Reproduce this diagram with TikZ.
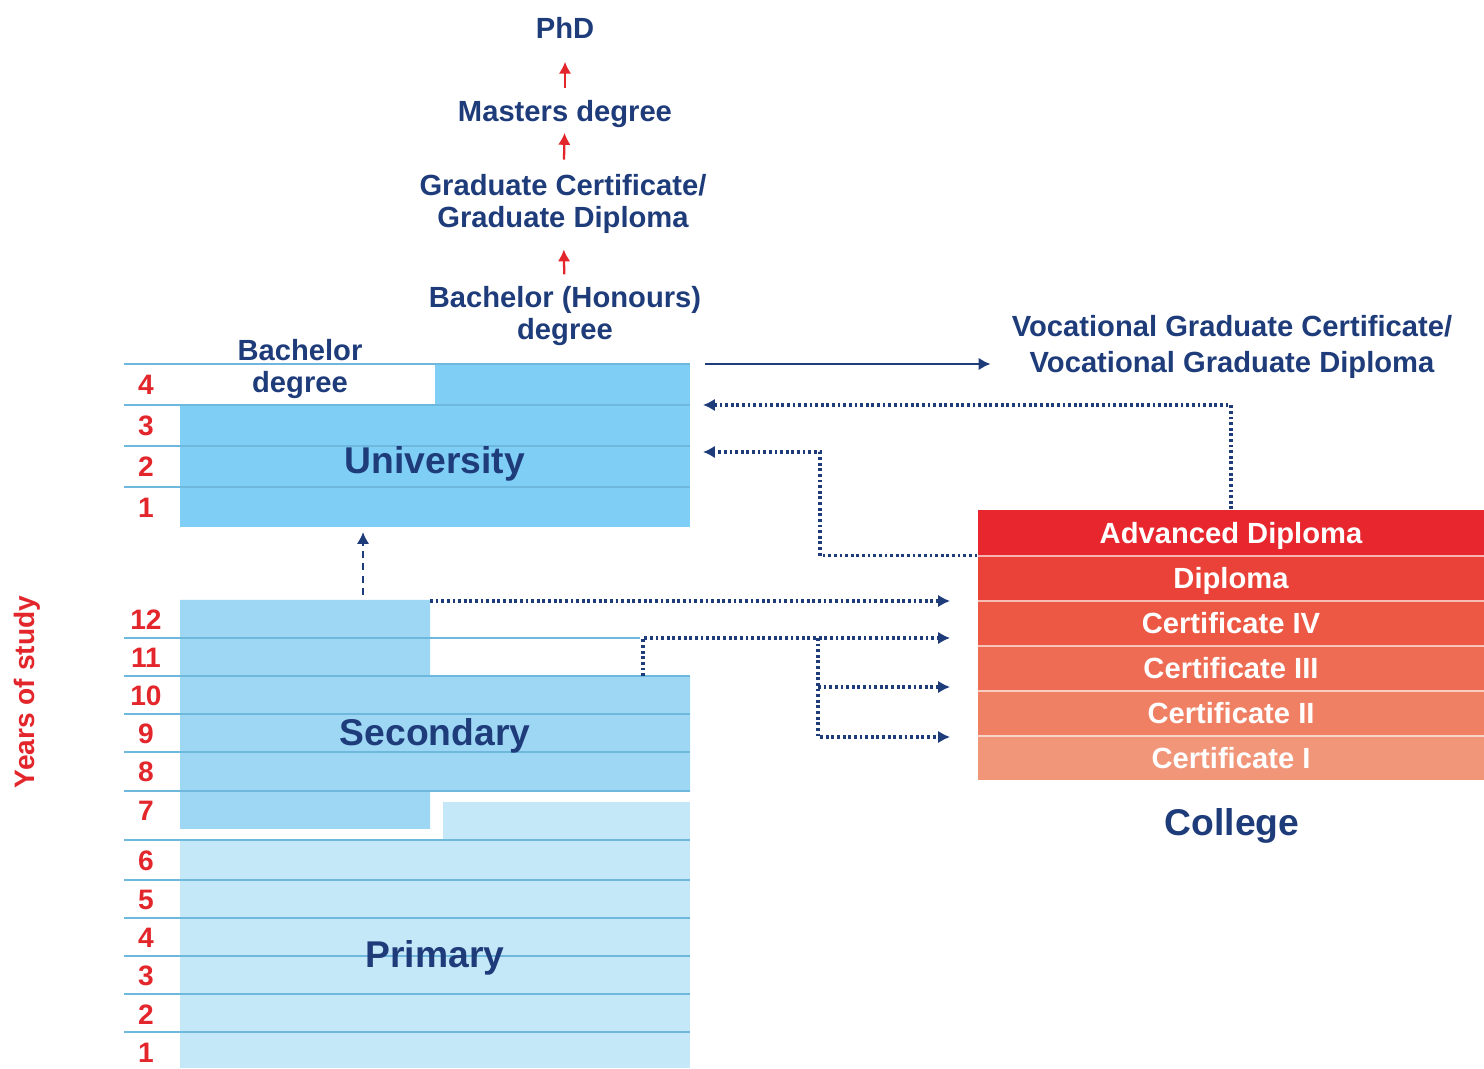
\documentclass[tikz,border=0pt]{standalone}
\usepackage{fontspec}
\setmainfont{Liberation Sans}
\usepackage{tikz}
\usetikzlibrary{arrows.meta}

\definecolor{navy}{RGB}{31,60,122}
\definecolor{yred}{RGB}{226,38,43}
\definecolor{unifill}{RGB}{127,206,245}
\definecolor{secfill}{RGB}{157,215,244}
\definecolor{prifill}{RGB}{197,232,249}
\definecolor{rowline}{RGB}{110,184,222}
\definecolor{advfill}{RGB}{232,38,46}
\definecolor{dipfill}{RGB}{234,66,56}
\definecolor{cfourfill}{RGB}{236,88,68}
\definecolor{cthreefill}{RGB}{238,108,84}
\definecolor{ctwofill}{RGB}{240,128,100}
\definecolor{conefill}{RGB}{242,150,122}

\tikzset{
  deg/.style={font=\bfseries\fontsize{8.3}{8.9}\selectfont, text=navy, align=center, inner sep=1pt},
  sector/.style={font=\bfseries\fontsize{10.6}{12}\selectfont, text=navy},
  yr/.style={font=\bfseries\fontsize{8}{9}\selectfont, text=yred, inner sep=0pt},
  lvl/.style={font=\bfseries\fontsize{8.3}{9}\selectfont, text=white, minimum width=5.06cm, minimum height=0.45cm, inner sep=0pt, text depth=0pt},
  uparr/.style={yred, line width=0.65pt, -{Latex[length=3.4pt,width=3.6pt]}},
  link/.style={navy, line width=0.9pt, dash pattern=on 0.8pt off 0.8pt, -{Latex[length=3.4pt,width=3.6pt]}},
  rowsep/.style={rowline, line width=0.6pt}
}

\begin{document}
\begin{tikzpicture}
        \useasboundingbox (0,0) rectangle (14.84,10.68);
        % blocks
        \fill[unifill] (1.80,5.41) rectangle (6.90,6.63);
        \fill[unifill] (4.35,6.63) rectangle (6.90,7.04);
        \fill[secfill] (1.80,4.68) -- (4.30,4.68) -- (4.30,3.92) -- (6.90,3.92) -- (6.90,2.77) -- (4.30,2.77) -- (4.30,2.39) -- (1.80,2.39) -- cycle;
        \fill[prifill] (4.43,2.28) rectangle (6.90,2.66);
        \fill[prifill] (1.80,0) rectangle (6.90,2.28);
        \draw[rowsep] (1.24,7.04) -- (6.90,7.04) (1.24,6.63) -- (6.90,6.63) (1.24,6.22) -- (6.90,6.22) (1.24,5.81) -- (6.90,5.81);
        \draw[rowsep] (1.24,4.30) -- (6.40,4.30) (1.24,3.92) -- (6.90,3.92) (1.24,3.54) -- (6.90,3.54) (1.24,3.16) -- (6.90,3.16) (1.24,2.77) -- (6.90,2.77);
        \draw[rowsep] (1.24,2.28) -- (6.90,2.28) (1.24,1.88) -- (6.90,1.88) (1.24,1.50) -- (6.90,1.50) (1.24,1.12) -- (6.90,1.12) (1.24,0.74) -- (6.90,0.74) (1.24,0.36) -- (6.90,0.36);
        \node[sector] (uni) at (4.35,6.04) {University};
        \node[sector] (sec) at (4.35,3.32) {Secondary};
        \node[sector] (pri) at (4.35,1.10) {Primary};
        \node[deg] (bach) at (3.00,6.99) {Bachelor\\degree};
        % years
        \node[yr, rotate=90] (years) at (0.27,3.76) {Years of study};
        \node[yr] (u4) at (1.46,6.83) {4};  \node[yr] (u3) at (1.46,6.42) {3};
        \node[yr] (u2) at (1.46,6.01) {2};  \node[yr] (u1) at (1.46,5.60) {1};
        \node[yr] (s12) at (1.46,4.48) {12}; \node[yr] (s11) at (1.46,4.10) {11};
        \node[yr] (s10) at (1.46,3.72) {10}; \node[yr] (s9) at (1.46,3.34) {9};
        \node[yr] (s8) at (1.46,2.96) {8};  \node[yr] (s7) at (1.46,2.57) {7};
        \node[yr] (p6) at (1.46,2.07) {6};  \node[yr] (p5) at (1.46,1.68) {5};
        \node[yr] (p4) at (1.46,1.30) {4};  \node[yr] (p3) at (1.46,0.92) {3};
        \node[yr] (p2) at (1.46,0.53) {2};  \node[yr] (p1) at (1.46,0.15) {1};
        % higher degrees
        \node[deg] (phd) at (5.65,10.40) {PhD};
        \node[deg] (mast) at (5.65,9.54) {Masters degree};
        \node[deg] (gcert) at (5.63,8.64) {Graduate Certificate/\\Graduate Diploma};
        \node[deg] (hons) at (5.65,7.52) {Bachelor (Honours)\\degree};
        \draw[uparr, shorten <=0.08cm, shorten >=0.19cm] (mast) -- (phd);
        \draw[uparr, shorten <=0.11cm, shorten >=0.01cm] (gcert) -- (mast);
        \draw[uparr, shorten <=0.08cm, shorten >=0.12cm] (hons) -- (gcert);
        \node[deg, font=\bfseries\fontsize{8.3}{10}\selectfont] (voc) at (12.32,7.21) {Vocational Graduate Certificate/\\Vocational Graduate Diploma};
        % college
        \node[lvl, fill=advfill] (adv) at (12.31,5.355) {Advanced Diploma};
        \node[lvl, fill=dipfill] (dip) at (12.31,4.905) {Diploma};
        \node[lvl, fill=cfourfill] (c4) at (12.31,4.455) {Certificate IV};
        \node[lvl, fill=cthreefill] (c3) at (12.31,4.005) {Certificate III};
        \node[lvl, fill=ctwofill] (c2) at (12.31,3.555) {Certificate II};
        \node[lvl, fill=conefill] (c1) at (12.31,3.105) {Certificate I};
        \draw[white, opacity=0.6, line width=0.5pt] (adv.south west) -- (adv.south east) (dip.south west) -- (dip.south east) (c4.south west) -- (c4.south east) (c3.south west) -- (c3.south east) (c2.south west) -- (c2.south east);
        \node[sector] (college) at (12.32,2.42) {College};
        % pathways
        \coordinate (vstart) at (7.05,7.04);
        \coordinate (uA) at (7.03,6.63);
        \coordinate (uB) at (7.03,6.16);
        \coordinate (sTop) at (4.30,4.67);
        \coordinate (sMid) at (6.43,3.92);
        \coordinate (fork) at (8.18,4.30);
        \coordinate (cA) at (9.50,4.67);
        \coordinate (cB) at (9.50,4.30);
        \coordinate (cC) at (9.50,3.81);
        \coordinate (cD) at (9.50,3.31);
        \coordinate (secup) at (3.63,4.73);
        \coordinate (unidown) at (3.63,5.36);
        \draw[navy, line width=0.7pt, -{Latex[length=3.4pt,width=3.6pt]}, shorten >=0.17cm] (vstart) -- (vstart -| voc.west);
        \draw[link] (adv.north) |- (uA);
        \draw[link] (adv.south west) -| (8.20,6.16) -- (uB);
        \draw[link] (sTop) -- (cA);
        \draw[link] (sMid) |- (cB);
        \draw[link] (fork |- cC) -- (cC);
        \draw[link] (fork) |- (cD);
        \draw[navy, line width=0.7pt, dash pattern=on 2pt off 1.5pt, -{Latex[length=3.4pt,width=3.6pt]}] (secup) -- (unidown);
      \end{tikzpicture}
\end{document}
